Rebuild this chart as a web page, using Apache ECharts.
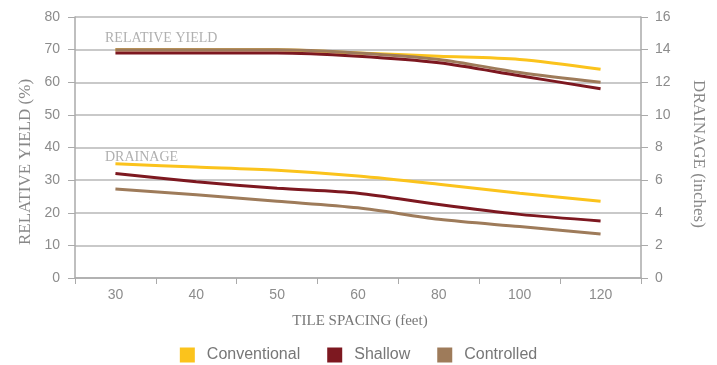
<!DOCTYPE html>
<html><head><meta charset="utf-8">
<script src="https://cdn.jsdelivr.net/npm/echarts@6/dist/echarts.min.js"></script>
<style>html,body{margin:0;padding:0;background:#fff}#c{width:717px;height:365px}</style>
</head><body><div id="c"></div>
<script>
const categories = ['30','40','50','60','80','100','120'];
const yieldConventional = [70, 70, 70, 69, 68, 67, 64];
const yieldShallow = [69, 69, 69, 68, 66, 62, 58];
const yieldControlled = [70, 70, 70, 69, 67, 63, 60];
const drainConventional = [7.0, 6.8, 6.6, 6.25, 5.75, 5.2, 4.7];
const drainShallow = [6.4, 5.9, 5.5, 5.2, 4.5, 3.9, 3.5];
const drainControlled = [5.45, 5.1, 4.7, 4.3, 3.6, 3.15, 2.7];

const cConv = '#FBC31C', cShal = '#7D1820', cCtrl = '#9E7B5A';
const serif = '"Liberation Serif", "DejaVu Serif", serif';
const sans = 'Arial, "Liberation Sans", sans-serif';
const gray = '#8c8c8c';

const chart = echarts.init(document.getElementById('c'));
function ln(name, data, color, axis) {
  return { name, type: 'line', data, yAxisIndex: axis, smooth: 0.3, symbol: 'none',
    lineStyle: { color, width: 3 }, itemStyle: { color }, z: name === 'Conventional' ? 3 : (name==='Controlled'?4:5) };
}
chart.setOption({
  animation: false,
  grid: { left: 75, right: 76, top: 17, bottom: 87 },
  legend: {
    top: 347, left: 'center', itemWidth: 15, itemHeight: 15, itemGap: 27,
    icon: 'rect', padding: 0,
    textStyle: { color: '#777', fontSize: 16, fontFamily: sans, padding: [0, 0, 0, 7] },
    data: ['Conventional', 'Shallow', 'Controlled']
  },
  xAxis: {
    type: 'category', data: categories, boundaryGap: true,
    axisLine: { lineStyle: { color: '#aaa', width: 1.5 } },
    axisTick: { show: true, length: 6, lineStyle: { color: '#aaa' } },
    axisLabel: { color: gray, fontSize: 14, margin: 10, fontFamily: sans }
  },
  yAxis: [{
    type: 'value', min: 0, max: 80, interval: 10,
    axisLine: { show: true, lineStyle: { color: '#aaa', width: 1.5 } },
    axisTick: { show: true, length: 7, lineStyle: { color: '#aaa' } },
    axisLabel: { color: gray, fontSize: 14, margin: 15, fontFamily: sans },
    splitLine: { lineStyle: { color: '#c9c9c9', width: 2 } }
  }, {
    type: 'value', min: 0, max: 16, interval: 2, position: 'right',
    axisLine: { show: true, lineStyle: { color: '#aaa', width: 1.5 } },
    axisTick: { show: true, length: 7, lineStyle: { color: '#aaa' } },
    axisLabel: { color: gray, fontSize: 14, margin: 14, fontFamily: sans },
    splitLine: { show: false }
  }],
  graphic: [
    { type: 'text', left: 105, top: 31, style: { text: 'RELATIVE YIELD', fill: '#b0b0b0', font: '14px ' + serif } },
    { type: 'text', left: 105, top: 150, style: { text: 'DRAINAGE', fill: '#b0b0b0', font: '14px ' + serif } },
    { type: 'text', x: 26, y: 162, rotation: Math.PI / 2,
      style: { text: 'RELATIVE YIELD (%)', fill: '#888', font: '17px ' + serif, textAlign: 'center', textVerticalAlign: 'middle' } },
    { type: 'text', x: 698, y: 154, rotation: -Math.PI / 2,
      style: { text: 'DRAINAGE (inches)', fill: '#888', font: '17px ' + serif, textAlign: 'center', textVerticalAlign: 'middle' } },
    { type: 'text', x: 360, y: 321,
      style: { text: 'TILE SPACING (feet)', fill: '#777', font: '15px ' + serif, textAlign: 'center', textVerticalAlign: 'middle' } }
  ],
  series: [
    ln('Conventional', yieldConventional, cConv, 0),
    ln('Shallow', yieldShallow, cShal, 0),
    ln('Controlled', yieldControlled, cCtrl, 0),
    ln('Conventional', drainConventional, cConv, 1),
    ln('Shallow', drainShallow, cShal, 1),
    ln('Controlled', drainControlled, cCtrl, 1)
  ]
});
</script></body></html>
